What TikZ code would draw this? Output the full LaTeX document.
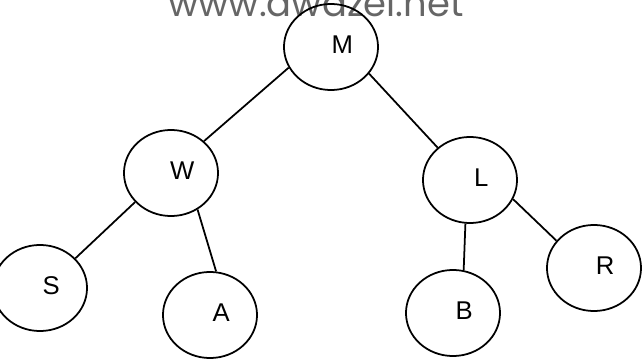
\documentclass[tikz,border=0pt]{standalone}
\usepackage{fontspec}
\setsansfont{Liberation Sans}
\newfontfamily\markfont{Poppins}
\usetikzlibrary{shapes.geometric}

\begin{document}
\begin{tikzpicture}[x=0.01cm, y=-0.01cm]
    \useasboundingbox (0, 0) rectangle (642, 364);
    \clip (0, 0) rectangle (642, 364);

    \node[anchor=base, text=black!60, inner sep=0pt, font=\markfont\fontsize{10.5}{13}\selectfont] (mark) at (316, 17) {www.awazel.net};

    \begin{scope}[every node/.style={draw=black,ellipse,line width=0.5pt,minimum width=0.94cm,minimum height=0.86cm,inner sep=0pt},
                  every label/.style={draw=none,ellipse=false,xshift=3.2pt,yshift=0.7pt,font=\sffamily\fontsize{7.3}{9}\selectfont}]
        \node[label=center:M] (M) at (331, 47) {};

        \node[label=center:W] (W) at (171, 173) {};  % left subtree
        \node[label=center:L] (L) at (470, 180) {};  % right subtree

        \node[label=center:S] (S) at (40, 288) {};
        \node[label=center:A] (A) at (210, 315) {};
        \node[label=center:B] (B) at (453, 313) {};
        \node[label=center:R] (R) at (594, 268) {};
    \end{scope}

    \begin{scope}[every edge/.style={draw=black,line width=0.5pt}]
        \path (M.206) edge (W.44);
        \path (M.325) edge (L.135);

        \path (W.219) edge (S.40);
        \path (W.306) edge (A.82);

        \path (L.264) edge (B.76);
        \path (L.336) edge (R.144);
    \end{scope}
\end{tikzpicture}
\end{document}
